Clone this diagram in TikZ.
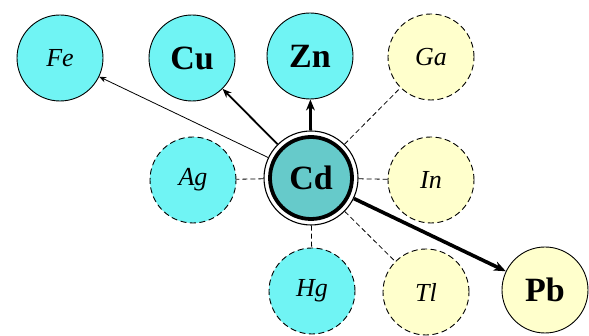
\documentclass[tikz,border=0pt]{standalone}
\usepackage{fontspec}
\setmainfont{Liberation Serif}
\definecolor{ioncyan}{HTML}{70F4F4}
\definecolor{centerteal}{HTML}{66CACA}
\definecolor{paleyellow}{HTML}{FFFFCC}
\usetikzlibrary{arrows.meta}

\begin{document}
\begin{tikzpicture}[x=1pt, y=-1pt,
    atom/.style={circle, draw=black, fill=#1, minimum size=86pt, inner sep=0pt, line width=0.9pt},
    weak/.style={atom=#1, dash pattern=on 6pt off 3.5pt},
    minor/.style={font=\fontsize{26}{26}\selectfont\itshape},
    major/.style={font=\fontsize{34}{34}\selectfont\bfseries},
    link/.style={line width=0.8pt, dash pattern=on 5pt off 3pt},
    arr/.style={-{Stealth[length=#1, width=#1*0.8]}},
]
    \useasboundingbox (0,0) rectangle (589,336);

    % first row
    \node[atom=ioncyan, minor] (Fe) at (60,58) {Fe};
    \node[atom=ioncyan, major] (Cu) at (192,58) {Cu};
    \node[atom=ioncyan, major] (Zn) at (310,56) {Zn};
    \node[weak=paleyellow, minor] (Ga) at (431,57) {Ga};

    % middle row
    \node[weak=ioncyan, minor] (Ag) at (193,180) {Ag};
    \node[circle, draw=black, fill=white, minimum size=94pt, line width=1.1pt] (ring) at (311,178) {};
    \node[atom=centerteal, major, minimum size=82pt, line width=3.8pt] (Cd) at (311,178) {Cd};
    \node[weak=paleyellow, minor] (In) at (431,180) {In};

    % bottom row
    \node[weak=ioncyan, minor] (Hg) at (312,291) {Hg};
    \node[weak=paleyellow, minor] (Tl) at (426,292) {Tl};
    \node[atom=paleyellow, major] (Pb) at (545,290) {Pb};

    % dashed links
    \draw[link] (ring) -- (Ag);
    \draw[link] (ring) -- (In);
    \draw[link] (ring) -- (Hg);
    \draw[link] (ring) -- (Ga);
    \draw[link] (ring) -- (Tl);

    % arrows
    \draw[arr=7pt, line width=0.8pt] (ring) -- (Fe);
    \draw[arr=9pt, line width=1.8pt] (ring) -- (Cu);
    \draw[arr=11pt, line width=2.8pt] (ring) -- (Zn);
    \draw[arr=12pt, line width=3.6pt] (ring) -- (Pb);
\end{tikzpicture}
\end{document}
